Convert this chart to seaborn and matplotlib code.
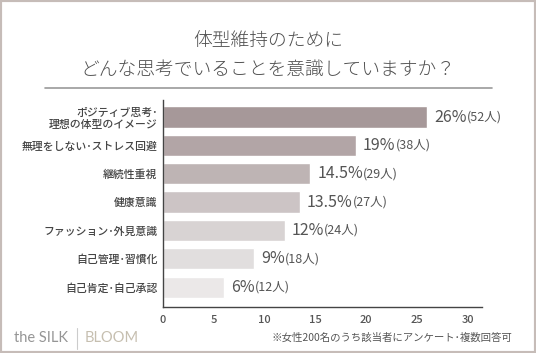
import matplotlib
matplotlib.use("Agg")
import matplotlib.pyplot as plt
import seaborn as sns
import pandas as pd
from matplotlib.patches import Rectangle
from matplotlib.lines import Line2D

# data
categories = ["ポジティブ思考･\n理想の体型のイメージ", "無理をしない･ストレス回避", "継続性重視",
              "健康意識", "ファッション･外見意識", "自己管理･習慣化", "自己肯定･自己承認"]
percents = [26, 19, 14.5, 13.5, 12, 9, 6]
counts = [52, 38, 29, 27, 24, 18, 12]
pct_labels = ["26%", "19%", "14.5%", "13.5%", "12%", "9%", "6%"]
bar_colors = ["#a99597", "#b4a3a4", "#c0b2b3", "#cdc3c4", "#d9d2d2", "#e2dddd", "#ebe8e8"]
xticks = [0, 5, 10, 15, 20, 25, 30]

sns.set_style("white")
plt.rcParams["font.family"] = ["Noto Sans CJK JP", "DejaVu Sans"]

df = pd.DataFrame({"cat": categories, "pct": percents})

fig = plt.figure(figsize=(5.36, 3.53), dpi=100)
ax = fig.add_axes([163 / 536, 1 - 307 / 353, (482 - 163) / 536, (307 - 100) / 353])

sns.barplot(data=df, x="pct", y="cat", hue="cat", palette=bar_colors, legend=False,
            width=0.75, ax=ax)

ax.set_xlim(0, 31.4)
ax.set_ylim(6.7, -0.6)
ax.set_xticks(xticks)
ax.set_xlabel("")
ax.set_ylabel("")
ax.tick_params(axis="both", length=0)
ax.tick_params(axis="y", pad=4, labelsize=7.8, labelcolor="#444444")
ax.tick_params(axis="x", pad=6, labelsize=8, labelcolor="#555555")
for lab in ax.get_xticklabels() + ax.get_yticklabels():
    lab.set_fontweight("medium")
sns.despine(ax=ax)
for s in ["left", "bottom"]:
    ax.spines[s].set_color("#444444")
    ax.spines[s].set_linewidth(1.0)

# value labels: big percentage + small count
for i, (p, lab, c) in enumerate(zip(percents, pct_labels, counts)):
    t = ax.annotate(lab, xy=(p, i), xytext=(5, 0), textcoords="offset points",
                    va="center", ha="left", fontsize=11.5, color="#555555")
    ax.annotate(f"({c}人)", xy=(1, 0.5), xycoords=t, xytext=(0, 0),
                textcoords="offset points", va="center", ha="left",
                fontsize=9, color="#555555")

# title
fig.text(0.5, 1 - 41 / 353, "体型維持のために", ha="center", va="center",
         fontsize=13.5, color="#4f4f4f", fontweight="light")
fig.text(0.5, 1 - 70 / 353, "どんな思考でいることを意識していますか？", ha="center", va="center",
         fontsize=13.5, color="#4f4f4f", fontweight="light")
fig.add_artist(Line2D([45 / 536, 492 / 536], [1 - 88 / 353, 1 - 88 / 353],
                      color="#9a9a9a", lw=1.2))

# footer
fig.text(14 / 536, 1 - 338 / 353, "the SILK", ha="left", va="center",
         fontsize=10.5, color="#959595", family=["Lato", "DejaVu Sans"])
fig.add_artist(Line2D([77 / 536, 77 / 536], [1 - 328 / 353, 1 - 349 / 353],
                      color="#cccccc", lw=0.8))
fig.text(85 / 536, 1 - 338 / 353, "BLOOM", ha="left", va="center",
         fontsize=10.5, color="#c6bfb0", family=["Lato", "DejaVu Sans"])
fig.text(512 / 536, 1 - 338 / 353, "※女性200名のうち該当者にアンケート･複数回答可",
         ha="right", va="center", fontsize=7.5, color="#555555")

# frame
fig.add_artist(Rectangle((0, 0), 1, 1, transform=fig.transFigure, fill=False,
                         edgecolor="#c6bcb8", lw=3))

fig.savefig("out.png", dpi=100)
